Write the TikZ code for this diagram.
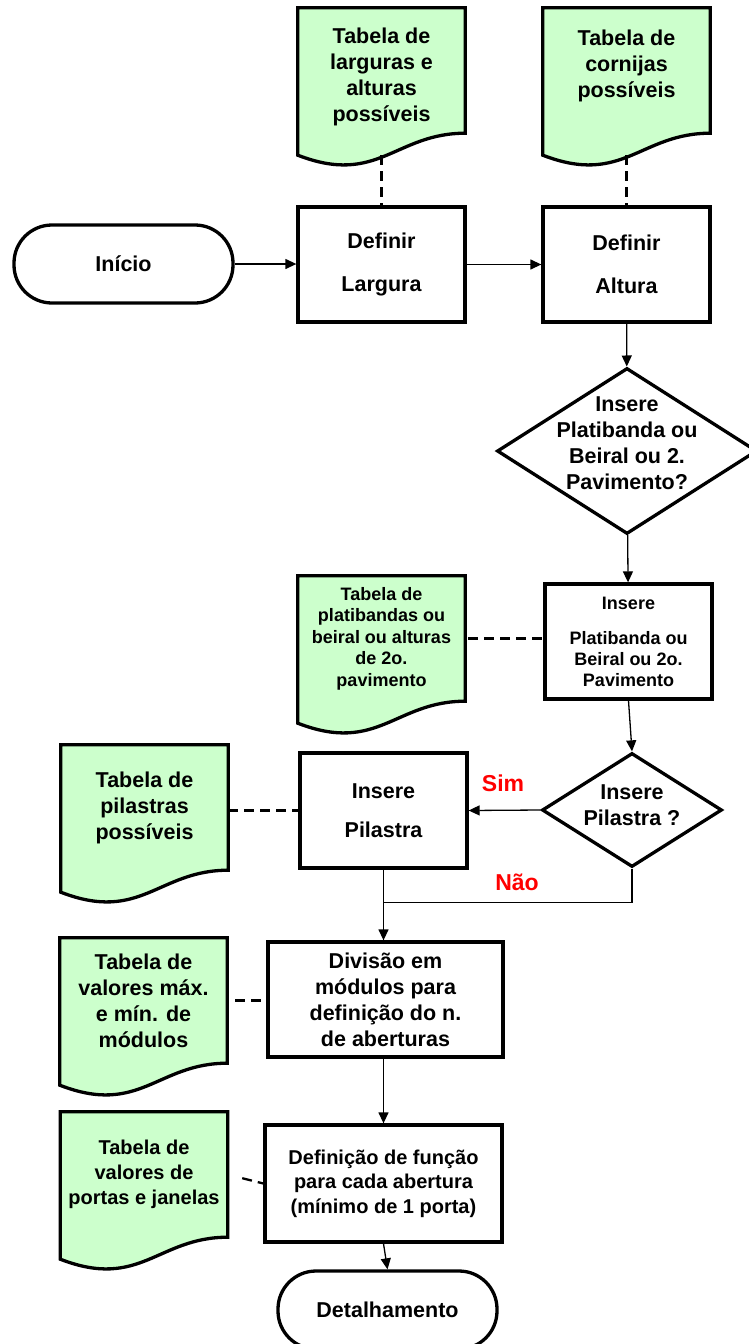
\documentclass[tikz,border=0pt]{standalone}
\usepackage{fontspec}
\setmainfont{Liberation Sans}
\usepackage{tikz}
\usetikzlibrary{arrows.meta,positioning,calc,shapes.geometric,backgrounds}
\definecolor{tabgreen}{HTML}{CCFFCC}
\definecolor{labelred}{HTML}{FF0000}

\begin{document}
\begin{tikzpicture}[x=1pt, y=-1pt,
  txt/.style={font=\fontsize{21.5}{26}\selectfont\bfseries, align=center, inner sep=0pt},
  etapa/.style={txt, draw, line width=3.3pt, minimum width=167pt, minimum height=115pt},
  terminal/.style={txt, draw, line width=3.3pt, rounded corners=38pt, minimum width=219pt, minimum height=78pt},
  decisao/.style={draw, diamond, line width=3.3pt, inner sep=0pt},
  tabela/.style={txt, minimum width=167pt, minimum height=125pt},
  seta/.style={-{Triangle[length=11pt,width=10pt]}, line width=1.3pt},
  liga/.style={dash pattern=on 10pt off 6pt, line width=2.3pt},
  resp/.style={font=\fontsize{23}{26}\selectfont\bfseries, text=labelred, inner sep=0pt}]
\useasboundingbox (0,0) rectangle (749,1344);
\clip (0,0) rectangle (749,1344);

% tabelas de consulta
\node[tabela, label={[txt, yshift=-6pt]center:{Tabela de\\larguras e\\alturas\\possíveis}}] (tabLarg) at (381.5,70.5) {};
\node[tabela, label={[txt, yshift=-6pt]center:{Tabela de\\cornijas\\possíveis\\\mbox{}}}] (tabCorn) at (626.5,70.5) {};
\node[tabela, font=\fontsize{18}{21.5}\selectfont\bfseries] (tabPlat) at (381.5,638.5) {Tabela de\\platibandas ou\\beiral ou alturas\\de 2o.\\pavimento};
\node[tabela, yshift=0pt] (tabPil) at (144.5,807.5) {Tabela de\\pilastras\\possíveis};
\node[tabela] (tabMod) at (143.5,1000.5) {Tabela de\\valores máx.\\e mín. de\\módulos};
\node[tabela, font=\fontsize{20}{25}\selectfont\bfseries] (tabPort) at (144,1174.5) {Tabela de\\valores de\\portas e janelas};

% etapas do fluxo
\node[terminal] (inicio) at (123.5,264) {Início};
\node[etapa] (defLarg) at (381.5,264.5) {Definir\\[17pt]Largura};
\node[etapa] (defAlt) at (626.5,264.5) {Definir\\[17pt]Altura};
\node[decisao, minimum width=260pt, minimum height=166pt,
  label={[txt, yshift=8pt]center:{Insere\\Platibanda ou\\Beiral ou 2.\\Pavimento?}}] (decPlat) at (627,451) {};
\node[etapa, font=\fontsize{18}{21}\selectfont\bfseries] (insPlat) at (628.5,641.5) {Insere\\[14pt]Platibanda ou\\Beiral ou 2o.\\Pavimento};
\node[decisao, minimum width=180pt, minimum height=114pt,
  label={[txt, yshift=5pt]center:{Insere\\Pilastra ?}}] (decPil) at (632,810) {};
\node[etapa] (insPil) at (383.5,810.5) {Insere\\[13pt]Pilastra};
\node[etapa, minimum width=235pt] (divMod) at (385.5,999.5) {Divisão em\\módulos para\\definição do n.\\de aberturas};
\node[etapa, minimum width=237pt, minimum height=117pt, font=\fontsize{20}{24.5}\selectfont\bfseries] (defFun) at (383.5,1183.5) {Definição de função\\para cada abertura\\(mínimo de 1 porta)};
\node[terminal] (fim) at (387.5,1310) {Detalhamento};

% respostas
\node[resp] (lblSim) at (503,783) {Sim};
\node[resp] (lblNao) at (517,882) {Não};

% contorno das tabelas
\begin{scope}[on background layer]
\foreach \t in {tabLarg,tabCorn,tabPlat,tabPil,tabMod,tabPort}
  \draw[line width=3.3pt, fill=tabgreen]
    (\t.north west) -- (\t.north east) -- (\t.south east)
    .. controls ($(\t.south east)+(-70,0)$) and ($(\t.south west)+(80,53)$) .. ($(\t.south west)+(0,22)$) -- cycle;
\end{scope}

% fluxo
\draw[seta] (inicio.east) -- (inicio.east -| defLarg.west);
\draw[seta] (defLarg) -- (defAlt);
\draw[seta] (defAlt) -- (decPlat);
\draw[seta] (decPlat) -- (insPlat);
\draw[seta] (insPlat.south) -- (decPil.north);
\draw[seta] (decPil.west) -- (insPil.east);
\coordinate (juncao) at ($(insPil.south)+(0,33)$);
\draw[line width=1.3pt] (decPil.south) |- (juncao);
\draw[seta] (insPil.south) -- (insPil.south |- divMod.north);
\draw[seta] (divMod.south -| defFun.north) -- (defFun.north);
\draw[seta] (defFun.south) -- (fim.north);

% ligacoes com as tabelas
\draw[liga, shorten <=22pt] (tabLarg.south) -- (defLarg.north);
\draw[liga, shorten <=22pt] (tabCorn.south) -- (defAlt.north);
\draw[liga, shorten <=3pt] (tabPlat.east) -- (tabPlat.east -| insPlat.west);
\draw[liga] (insPil.west -| tabPil.east) -- (insPil.west);
\draw[liga, shorten <=8pt] (tabMod.east) -- (tabMod.east -| divMod.west);
\draw[liga, shorten <=15pt] (tabPort.east) -- (defFun.west);
\end{tikzpicture}
\end{document}
